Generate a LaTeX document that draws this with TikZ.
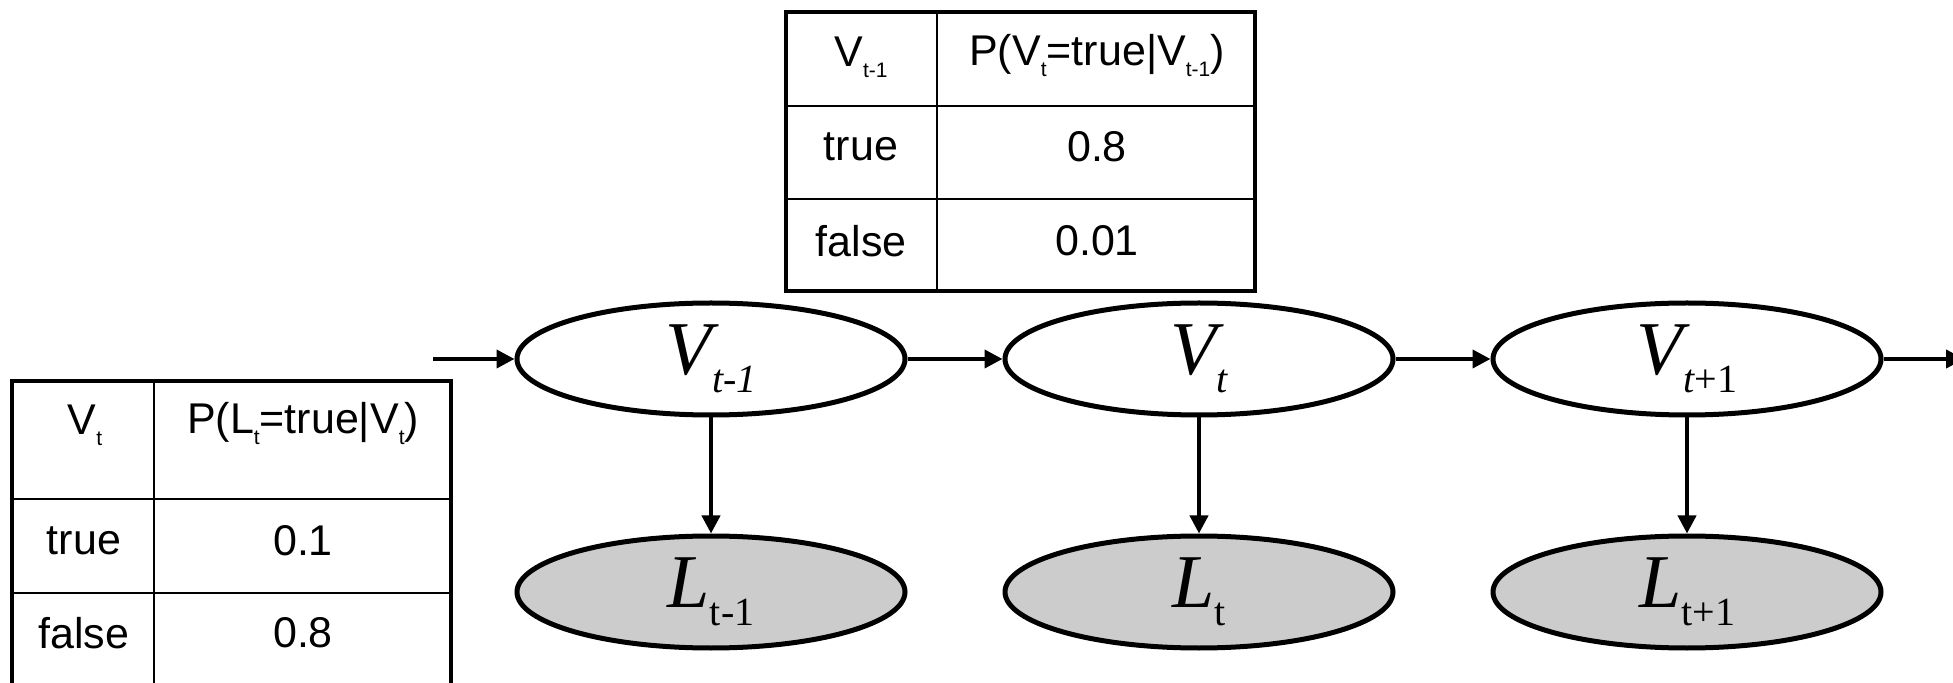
\documentclass[tikz,border=0pt]{standalone}
\usepackage{fontspec}
\setmainfont{Liberation Serif}
\setsansfont{Liberation Sans}
\usetikzlibrary{shapes.geometric,arrows.meta}
\newcommand{\tabsub}[1]{\raisebox{-5.5pt}{\fontsize{10.5}{10.5}\selectfont #1}}
\newcommand{\varsub}[1]{\raisebox{-9pt}{\fontsize{20}{20}\selectfont #1}}
\begin{document}
\begin{tikzpicture}[x=0.5pt,y=-0.5pt,
  var/.style={ellipse,draw,line width=2.5pt,minimum width=194pt,minimum height=56pt,inner sep=0pt,
    font=\fontsize{38}{38}\selectfont},
  obs/.style={var,fill=black!20},
  link/.style={line width=2pt,-{Triangle[length=9pt,width=9pt]}},
  outer/.style={line width=2.25pt},
  inner/.style={line width=1.2pt},
  cell/.style={font=\sffamily\fontsize{21.5}{21.5}\selectfont,inner sep=0pt}
]
\useasboundingbox (0,0) rectangle (1953,683);
% top table
\draw[inner] (937,12) -- (937,291) (786,106) -- (1255,106) (786,199) -- (1255,199);
\draw[outer] (786,12) rectangle (1255,291);
\node[cell] (th1) at (861,57) {V\tabsub{t-1}};
\node[cell] (th2) at (1097,56) {P(V\tabsub{t}=true|V\tabsub{t-1})};
\node[cell] (tr1) at (861,147) {true};
\node[cell] (tr2) at (1097,147) {0.8};
\node[cell] (tf1) at (861,241) {false};
\node[cell] (tf2) at (1097,241) {0.01};
% left table
\draw[inner] (154,381) -- (154,683) (12,499) -- (451,499) (12,593) -- (451,593);
\draw[outer] (12,683) -- (12,381) -- (451,381) -- (451,683);
\node[cell] (lh1) at (85,425) {V\tabsub{t}};
\node[cell] (lh2) at (303,424) {P(L\tabsub{t}=true|V\tabsub{t})};
\node[cell] (lr1) at (84,541) {true};
\node[cell] (lr2) at (303,541) {0.1};
\node[cell] (lf1) at (84,633) {false};
\node[cell] (lf2) at (303,633) {0.8};
% network
\node[var] (v1) at (711,359) {\itshape V\varsub{t-1}};
\node[var] (v2) at (1199,359) {\itshape V\varsub{t}};
\node[var] (v3) at (1687,359) {\itshape V\varsub{t\upshape+1}};
\node[obs] (l1) at (711,592) {\itshape L\varsub{\upshape t-1}};
\node[obs] (l2) at (1199,592) {\itshape L\varsub{\upshape t}};
\node[obs] (l3) at (1687,592) {\itshape L\varsub{\upshape t+1}};
\coordinate (in) at (433,359);
\coordinate (out) at (1964,359);
\draw[link] (in) -- (v1);
\draw[link] (v1) -- (v2);
\draw[link] (v2) -- (v3);
\draw[link] (v3) -- (out);
\draw[link] (v1) -- (l1);
\draw[link] (v2) -- (l2);
\draw[link] (v3) -- (l3);
\end{tikzpicture}
\end{document}
